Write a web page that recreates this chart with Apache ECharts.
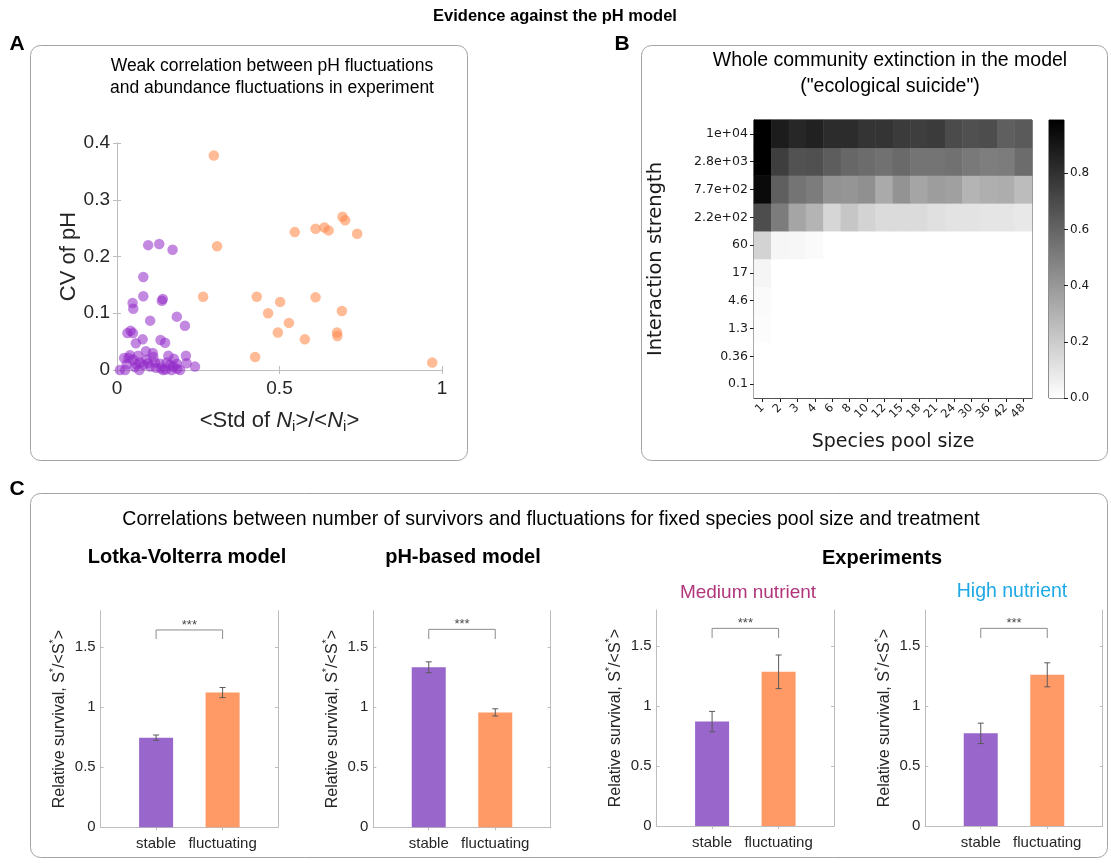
<!DOCTYPE html>
<html>
<head>
<meta charset="utf-8">
<script src="https://cdn.jsdelivr.net/npm/echarts@6/dist/echarts.min.js"></script>
<style>
  html, body { margin: 0; padding: 0; background: #ffffff; }
  #chart { width: 1111px; height: 863px; }
</style>
</head>
<body>
<div id="chart"></div>
<script>
// ---------- Panel A: pH fluctuations vs abundance fluctuations ----------
// [<Std of Ni>/<Ni>, CV of pH]
const stablePoints = [
  [0.096, 0.220], [0.130, 0.222], [0.171, 0.212], [0.081, 0.164], [0.081, 0.130],
  [0.141, 0.125], [0.138, 0.122], [0.048, 0.118], [0.050, 0.108], [0.184, 0.094],
  [0.102, 0.087], [0.209, 0.078], [0.042, 0.069], [0.032, 0.065], [0.049, 0.065],
  [0.079, 0.054], [0.058, 0.047], [0.134, 0.053], [0.148, 0.048], [0.089, 0.033],
  [0.040, 0.026], [0.022, 0.021], [0.212, 0.025], [0.112, 0.023], [0.158, 0.025],
  [0.071, 0.013], [0.081, 0.009], [0.102, 0.006], [0.132, 0.011], [0.163, 0.009],
  [0.184, 0.011], [0.240, 0.006], [0.009, 0.000], [0.025, 0.000], [0.069, 0.000],
  [0.142, 0.000], [0.168, 0.000], [0.194, 0.000], [0.055, 0.005], [0.050, 0.018],
  [0.035, 0.021], [0.117, 0.013], [0.173, 0.006], [0.153, 0.013], [0.091, 0.018],
  [0.214, 0.012], [0.120, 0.004], [0.135, 0.003], [0.060, 0.010], [0.095, 0.012],
  [0.150, 0.001], [0.185, 0.002], [0.110, 0.030], [0.175, 0.020], [0.065, 0.025],
  [0.030, 0.010]
];
const fluctuatingPoints = [
  [0.298, 0.378], [0.308, 0.218], [0.265, 0.129], [0.547, 0.243], [0.611, 0.249],
  [0.638, 0.251], [0.651, 0.246], [0.694, 0.270], [0.702, 0.264], [0.739, 0.240],
  [0.502, 0.120], [0.611, 0.128], [0.465, 0.100], [0.529, 0.083], [0.495, 0.066],
  [0.578, 0.054], [0.692, 0.104], [0.677, 0.066], [0.678, 0.060], [0.970, 0.013],
  [0.430, 0.129], [0.425, 0.023]
];
const cvTicks = [0, 0.1, 0.2, 0.3, 0.4];
const stdTicks = [0, 0.5, 1];

// ---------- Panel B: fraction of runs ending in whole-community extinction ----------
const poolSizes = ['1', '2', '3', '4', '6', '8', '10', '12', '15', '18', '21', '24', '30', '36', '42', '48'];
const strengthLabels = ['0.1', '0.36', '1.3', '4.6', '17', '60', '2.2e+02', '7.7e+02', '2.8e+03', '1e+04'];
// one row per interaction strength, weakest first
const extinctionRows = [
  [0, 0, 0, 0, 0, 0, 0, 0, 0, 0, 0, 0, 0, 0, 0, 0],
  [0, 0, 0, 0, 0, 0, 0, 0, 0, 0, 0, 0, 0, 0, 0, 0],
  [0.01, 0, 0, 0, 0, 0, 0, 0, 0, 0, 0, 0, 0, 0, 0, 0],
  [0.02, 0, 0, 0, 0, 0, 0, 0, 0, 0, 0, 0, 0, 0, 0, 0],
  [0.04, 0, 0, 0, 0, 0, 0, 0, 0, 0, 0, 0, 0, 0, 0, 0],
  [0.17, 0.035, 0.03, 0.02, 0, 0, 0, 0, 0, 0, 0, 0, 0, 0, 0, 0],
  [0.69, 0.51, 0.35, 0.29, 0.16, 0.22, 0.17, 0.14, 0.14, 0.14, 0.12, 0.11, 0.11, 0.10, 0.10, 0.09],
  [0.95, 0.62, 0.54, 0.51, 0.42, 0.41, 0.43, 0.33, 0.42, 0.35, 0.38, 0.37, 0.29, 0.31, 0.32, 0.26],
  [0.99, 0.75, 0.67, 0.68, 0.63, 0.59, 0.57, 0.55, 0.58, 0.54, 0.54, 0.55, 0.52, 0.50, 0.51, 0.57],
  [0.99, 0.88, 0.84, 0.86, 0.82, 0.82, 0.79, 0.79, 0.76, 0.75, 0.76, 0.70, 0.68, 0.69, 0.62, 0.64]
];
const extinctionMax = 0.99;
const colorbarTicks = [0, 0.2, 0.4, 0.6, 0.8];

// ---------- Panel C: relative survival, mean and standard error ----------
const barCategories = ['stable', 'fluctuating'];
const lvMean = [0.745, 1.12];
const lvErr = [0.022, 0.042];
const phMean = [1.33, 0.955];
const phErr = [0.045, 0.030];
const mediumMean = [0.87, 1.285];
const mediumErr = [0.085, 0.14];
const highMean = [0.772, 1.26];
const highErr = [0.085, 0.10];
const survivalTicks = [0, 0.5, 1, 1.5];
// bracket: [from, to, top, drop]
const lvBracket = [1, 2, 1.64, 1.565];
const phBracket = [1, 2, 1.645, 1.565];
const mediumBracket = [1, 2, 1.647, 1.567];
const highBracket = [1, 2, 1.647, 1.567];

// ---------- styling ----------
const FONT = 'Liberation Sans';
const MPL_FONT = 'DejaVu Sans';
const PURPLE = '#9966cc';
const ORANGE = '#ff9966';
const BOX = '#bdbdbd';
const TEXT = '#262626';

const grids = [], xAxes = [], yAxes = [], series = [];
const addGrid = g => (grids.push(g), grids.length - 1);
const addX = a => (xAxes.push(a), xAxes.length - 1);
const addY = a => (yAxes.push(a), yAxes.length - 1);

function boxAxis(extra) {
  return Object.assign({
    type: 'value',
    axisLine: { show: true, lineStyle: { color: BOX, width: 1 } },
    splitLine: { show: false },
    axisLabel: { show: false },
    axisTick: { show: false }
  }, extra);
}

// ----- Panel A -----
const gA = addGrid({ left: 117, top: 143, width: 325, height: 227 });
const xA = addX(boxAxis({
  gridIndex: gA, position: 'bottom', min: 0, max: 1,
  axisTick: { show: true, inside: true, length: 4, customValues: stdTicks, lineStyle: { color: BOX } },
  axisLabel: { show: true, customValues: stdTicks, formatter: v => String(v), fontSize: 19, color: TEXT, margin: 9, fontFamily: FONT },
  name: '<Std of {it|N}{sub|i}>/<{it|N}{sub|i}>',
  nameLocation: 'middle', nameGap: 37,
  nameTextStyle: {
    fontSize: 22, color: TEXT, fontFamily: FONT, lineHeight: 27,
    rich: {
      it: { fontSize: 22, fontStyle: 'italic', color: TEXT, fontFamily: FONT },
      sub: { fontSize: 15, color: TEXT, fontFamily: FONT, verticalAlign: 'bottom', lineHeight: 15 }
    }
  }
}));
addX(boxAxis({
  gridIndex: gA, position: 'top', min: 0, max: 1,
  axisTick: { show: true, inside: true, length: 4, customValues: stdTicks, lineStyle: { color: BOX } }
}));
const yA = addY(boxAxis({
  gridIndex: gA, position: 'left', min: 0, max: 0.4, interval: 0.1,
  axisTick: { show: true, inside: true, length: 4, customValues: cvTicks, lineStyle: { color: BOX } },
  axisLabel: { show: true, customValues: cvTicks, formatter: v => String(v), fontSize: 19, color: TEXT, margin: 7, fontFamily: FONT },
  name: 'CV of pH', nameLocation: 'middle', nameGap: 34, nameRotate: 90,
  nameTextStyle: { fontSize: 22, color: TEXT, fontFamily: FONT }
}));
addY(boxAxis({
  gridIndex: gA, position: 'right', min: 0, max: 0.4, interval: 0.1,
  axisTick: { show: true, inside: true, length: 4, customValues: cvTicks, lineStyle: { color: BOX } }
}));
series.push({
  type: 'scatter', xAxisIndex: xA, yAxisIndex: yA, symbolSize: 10.5,
  itemStyle: { color: '#9128c8', opacity: 0.55 }, data: stablePoints
});
series.push({
  type: 'scatter', xAxisIndex: xA, yAxisIndex: yA, symbolSize: 10.5,
  itemStyle: { color: '#ff8c50', opacity: 0.6 }, data: fluctuatingPoints
});

// ----- Panel B: heatmap -----
const gB = addGrid({ left: 754, top: 120, width: 278, height: 278, show: true, borderColor: '#1a1a1a', borderWidth: 1 });
const xB = addX({
  gridIndex: gB, type: 'category', data: poolSizes, position: 'bottom',
  axisLine: { show: true, lineStyle: { color: '#1a1a1a' } },
  axisTick: { show: true, alignWithLabel: true, length: 4, lineStyle: { color: '#1a1a1a' } },
  axisLabel: { rotate: 45, fontSize: 11.5, color: '#1a1a1a', fontFamily: MPL_FONT, margin: 8, interval: 0, hideOverlap: false },
  splitLine: { show: false },
  name: 'Species pool size', nameLocation: 'middle', nameGap: 35,
  nameTextStyle: { fontSize: 19, color: '#1a1a1a', fontFamily: MPL_FONT }
});
const yB = addY({
  gridIndex: gB, type: 'category', data: strengthLabels, position: 'left',
  axisLine: { show: true, lineStyle: { color: '#1a1a1a' } },
  axisTick: { show: true, alignWithLabel: true, length: 4, lineStyle: { color: '#1a1a1a' } },
  axisLabel: { fontSize: 12.5, color: '#1a1a1a', fontFamily: MPL_FONT, margin: 6, interval: 0 },
  splitLine: { show: false },
  name: 'Interaction strength', nameLocation: 'middle', nameGap: 88, nameRotate: 90,
  nameTextStyle: { fontSize: 19.5, color: '#1a1a1a', fontFamily: MPL_FONT }
});
const heatData = [];
extinctionRows.forEach((row, r) => row.forEach((v, c) => heatData.push([c, r, v])));
const heatIndex = series.length;
series.push({
  type: 'heatmap', xAxisIndex: xB, yAxisIndex: yB, data: heatData,
  itemStyle: { borderWidth: 0 }, emphasis: { disabled: true }
});

// colour bar
const gCb = addGrid({ left: 1049, top: 120, width: 15, height: 278, show: true, borderColor: '#1a1a1a', borderWidth: 1 });
const xCb = addX({ gridIndex: gCb, type: 'category', data: [''], show: false });
const yCb = addY({
  gridIndex: gCb, type: 'value', min: 0, max: extinctionMax, position: 'right',
  axisLine: { show: false },
  axisTick: { show: true, length: 4, customValues: colorbarTicks, lineStyle: { color: '#1a1a1a' } },
  axisLabel: { customValues: colorbarTicks, formatter: v => v.toFixed(1), fontSize: 12, color: '#1a1a1a', fontFamily: MPL_FONT, margin: 6 },
  splitLine: { show: false }
});
series.push({
  type: 'bar', xAxisIndex: xCb, yAxisIndex: yCb, barWidth: '100%', data: [extinctionMax],
  itemStyle: {
    color: { type: 'linear', x: 0, y: 0, x2: 0, y2: 1, colorStops: [{ offset: 0, color: '#000000' }, { offset: 1, color: '#ffffff' }] }
  },
  silent: true
});

// ----- Panel C: bar charts -----
const X_MIN = 1 / 6, X_MAX = 2 + 5 / 6;

function renderErrorBar(params, api) {
  const x = api.value(0), m = api.value(1), e = api.value(2);
  const top = api.coord([x, m + e]);
  const bot = api.coord([x, m - e]);
  const hw = 3;
  const style = { stroke: '#5a5a5a', lineWidth: 1 };
  return {
    type: 'group', children: [
      { type: 'line', shape: { x1: top[0], y1: top[1], x2: bot[0], y2: bot[1] }, style },
      { type: 'line', shape: { x1: top[0] - hw, y1: top[1], x2: top[0] + hw, y2: top[1] }, style },
      { type: 'line', shape: { x1: bot[0] - hw, y1: bot[1], x2: bot[0] + hw, y2: bot[1] }, style }
    ]
  };
}

function renderBracket(params, api) {
  const a = api.coord([api.value(0), api.value(2)]);
  const b = api.coord([api.value(1), api.value(2)]);
  const a2 = api.coord([api.value(0), api.value(3)]);
  const b2 = api.coord([api.value(1), api.value(3)]);
  return {
    type: 'group', children: [
      { type: 'polyline', shape: { points: [a2, a, b, b2] }, style: { stroke: '#8c8c8c', lineWidth: 1, fill: null } },
      { type: 'text', x: (a[0] + b[0]) / 2, y: a[1] + 2, style: { text: '***', fill: '#4a4a4a', font: '13px "Liberation Sans"', align: 'center', verticalAlign: 'bottom' } }
    ]
  };
}

function addBarPanel(rect, mean, err, bracket) {
  const g = addGrid({ left: rect[0], top: rect[1], width: rect[2], height: rect[3] });
  const tick = { show: true, inside: true, length: 3, customValues: [1, 2], lineStyle: { color: BOX } };
  const yTick = { show: true, inside: true, length: 3, customValues: survivalTicks, lineStyle: { color: BOX } };
  const xb = addX(boxAxis({
    gridIndex: g, position: 'bottom', min: X_MIN, max: X_MAX, axisTick: tick,
    axisLabel: { show: true, customValues: [1, 2], formatter: v => barCategories[Math.round(v) - 1], fontSize: 15, color: TEXT, margin: 9, fontFamily: FONT }
  }));
  addX(boxAxis({ gridIndex: g, position: 'top', min: X_MIN, max: X_MAX, axisTick: tick }));
  const yl = addY(boxAxis({
    gridIndex: g, position: 'left', min: 0, max: 1.8, axisTick: yTick,
    axisLabel: { show: true, customValues: survivalTicks, formatter: v => String(v), fontSize: 15, color: TEXT, margin: 5, fontFamily: FONT },
    name: 'Relative survival, S{sup|*}/<S{sup|*}>',
    nameLocation: 'middle', nameGap: 27, nameRotate: 90,
    nameTextStyle: {
      fontSize: 16, color: TEXT, fontFamily: FONT, lineHeight: 22,
      rich: { sup: { fontSize: 11, color: TEXT, fontFamily: FONT, verticalAlign: 'top', lineHeight: 11 } }
    }
  }));
  addY(boxAxis({ gridIndex: g, position: 'right', min: 0, max: 1.8, axisTick: yTick }));
  const colors = [PURPLE, ORANGE];
  series.push({
    type: 'bar', xAxisIndex: xb, yAxisIndex: yl, barWidth: 34,
    data: mean.map((m, i) => ({ value: [i + 1, m], itemStyle: { color: colors[i] } })),
    silent: true
  });
  series.push({
    type: 'custom', xAxisIndex: xb, yAxisIndex: yl, renderItem: renderErrorBar, z: 5,
    data: mean.map((m, i) => [i + 1, m, err[i]]), silent: true
  });
  series.push({
    type: 'custom', xAxisIndex: xb, yAxisIndex: yl, renderItem: renderBracket, z: 5,
    data: [bracket], silent: true
  });
}

addBarPanel([100.7, 610.7, 177.3, 216.6], lvMean, lvErr, lvBracket);
addBarPanel([373.3, 610.7, 177.4, 216.6], phMean, phErr, phBracket);
addBarPanel([656.7, 610, 177.3, 216], mediumMean, mediumErr, mediumBracket);
addBarPanel([925.3, 610, 177.4, 216], highMean, highErr, highBracket);

// ----- frames, titles and captions -----
function txt(x, y, text, size, opts) {
  opts = opts || {};
  return {
    type: 'text', x: x, y: y, silent: true,
    style: {
      text: text, fill: opts.color || '#000000',
      font: (opts.bold ? 'bold ' : '') + size + 'px "' + FONT + '"',
      align: opts.align || 'center', verticalAlign: 'middle'
    }
  };
}
function frame(x, y, w, h) {
  return { type: 'rect', silent: true, shape: { x: x, y: y, width: w, height: h, r: 10 }, style: { fill: 'none', stroke: '#a3a3a3', lineWidth: 1 } };
}

const graphics = [
  frame(30.5, 45.5, 437, 415),
  frame(641.5, 45.5, 466, 415),
  frame(30.5, 493.5, 1077, 364),
  txt(555, 16, 'Evidence against the pH model', 16.5, { bold: true }),
  txt(17, 44, 'A', 21, { bold: true }),
  txt(622, 44, 'B', 21, { bold: true }),
  txt(17, 489, 'C', 21, { bold: true }),
  txt(272, 66, 'Weak correlation between pH fluctuations', 17.5),
  txt(272, 88, 'and abundance fluctuations in experiment', 17.5),
  txt(890, 61, 'Whole community extinction in the model', 19.5),
  txt(890, 87, '("ecological suicide")', 19.5),
  txt(551, 520, 'Correlations between number of survivors and fluctuations for fixed species pool size and treatment', 19.5),
  txt(187, 557, 'Lotka-Volterra model', 20, { bold: true }),
  txt(463, 557, 'pH-based model', 20, { bold: true }),
  txt(882, 558, 'Experiments', 20, { bold: true }),
  txt(748, 593, 'Medium nutrient', 19, { color: '#b0357a' }),
  txt(1012, 592, 'High nutrient', 19.5, { color: '#1ea9e6' })
];

const chart = echarts.init(document.getElementById('chart'), null, { renderer: 'canvas' });
chart.setOption({
  animation: false,
  backgroundColor: '#ffffff',
  textStyle: { fontFamily: FONT },
  grid: grids,
  xAxis: xAxes,
  yAxis: yAxes,
  visualMap: [{
    type: 'continuous', show: false, min: 0, max: extinctionMax, seriesIndex: heatIndex,
    inRange: { color: ['#ffffff', '#000000'] }
  }],
  graphic: graphics,
  series: series
});
</script>
</body>
</html>
